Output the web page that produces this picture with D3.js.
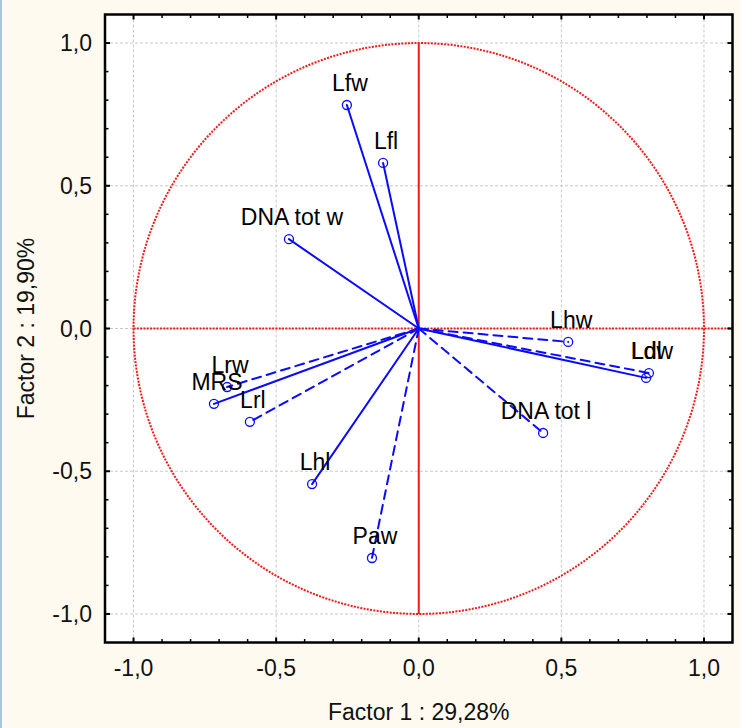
<!DOCTYPE html>
<html>
<head>
<meta charset="utf-8">
<script src="https://cdn.jsdelivr.net/npm/d3@7"></script>
<style>
  html, body { margin: 0; padding: 0; background: #fefaef; }
  svg { display: block; }
</style>
</head>
<body>
<script>
// Factor loadings: variables projected on factor 1 and factor 2
const variables = ["Lfw", "Lfl", "DNA tot w", "Lhw", "Ldw", "Ldl", "DNA tot l", "Lrw", "MRS", "Lrl", "Lhl", "Paw"];
const factor1 = [-0.252, -0.125, -0.455, 0.524, 0.807, 0.797, 0.436, -0.672, -0.718, -0.592, -0.374, -0.164];
const factor2 = [0.783, 0.580, 0.313, -0.047, -0.156, -0.173, -0.366, -0.205, -0.264, -0.327, -0.545, -0.804];
const majorTicks = [-1.0, -0.5, 0.0, 0.5, 1.0];
const tickLabels = ["-1,0", "-0,5", "0,0", "0,5", "1,0"];
const xTitle = "Factor 1 : 29,28%";
const yTitle = "Factor 2 : 19,90%";

// variables drawn with dashed vectors
const dashedVars = new Set(["Lhw", "Ldw", "DNA tot l", "Lrw", "Lrl", "Paw"]);
// small label shifts (px) where two points nearly coincide
const labelNudge = { Ldl: [-2.5, -4.5] };

const W = 741, H = 728;
const plot = { left: 105, right: 732.5, top: 14.5, bottom: 642.5 };
const font = "'Liberation Sans', Arial, sans-serif";
const fs = 23;

const svg = d3.select("body").append("svg").attr("width", W).attr("height", H);

svg.append("rect").attr("x", 0).attr("y", 0).attr("width", W).attr("height", H).attr("fill", "#fefaef");
svg.append("rect").attr("x", 0).attr("y", 0).attr("width", 2).attr("height", H).attr("fill", "#a9c4e2");

const x = d3.scaleLinear().domain([-1.1, 1.1]).range([plot.left, plot.right]);
const y = d3.scaleLinear().domain([-1.1, 1.1]).range([plot.bottom, plot.top]);

svg.append("rect").attr("x", plot.left).attr("y", plot.top)
  .attr("width", plot.right - plot.left).attr("height", plot.bottom - plot.top).attr("fill", "#ffffff");

// dashed grid at the major ticks
const grid = svg.append("g").attr("stroke", "#c9c9c9").attr("stroke-width", 1).attr("stroke-dasharray", "3,2");
grid.selectAll("line.v").data(majorTicks).join("line").attr("class", "v")
  .attr("x1", d => x(d)).attr("x2", d => x(d)).attr("y1", plot.top).attr("y2", plot.bottom);
grid.selectAll("line.h").data(majorTicks).join("line").attr("class", "h")
  .attr("y1", d => y(d)).attr("y2", d => y(d)).attr("x1", plot.left).attr("x2", plot.right);

// unit circle and reference axes
const red = "#f41a1a";
svg.append("ellipse")
  .attr("cx", x(0)).attr("cy", y(0))
  .attr("rx", x(1) - x(0)).attr("ry", y(0) - y(1))
  .attr("fill", "none").attr("stroke", red).attr("stroke-width", 2).attr("stroke-dasharray", "2,1.3");
svg.append("line")
  .attr("x1", x(-1)).attr("x2", x(1.1)).attr("y1", y(0)).attr("y2", y(0))
  .attr("stroke", red).attr("stroke-width", 2).attr("stroke-dasharray", "2,1.3");
svg.append("line")
  .attr("x1", x(0)).attr("x2", x(0)).attr("y1", y(1)).attr("y2", y(-1))
  .attr("stroke", red).attr("stroke-width", 2);

const data = variables.map((name, i) => ({ name, f1: factor1[i], f2: factor2[i] }));

// loading vectors
const blue = "#0a0aff";
svg.append("g").selectAll("line").data(data).join("line")
  .attr("x1", x(0)).attr("y1", y(0))
  .attr("x2", d => x(d.f1)).attr("y2", d => y(d.f2))
  .attr("stroke", blue).attr("stroke-width", 2)
  .attr("stroke-linecap", "round")
  .attr("stroke-dasharray", d => dashedVars.has(d.name) ? "9,6" : null);

svg.append("g").selectAll("circle").data(data).join("circle")
  .attr("cx", d => x(d.f1)).attr("cy", d => y(d.f2)).attr("r", 4.5)
  .attr("fill", "none").attr("stroke", blue).attr("stroke-width", 1.3);

svg.append("g").selectAll("text").data(data).join("text")
  .attr("x", d => x(d.f1) + 3 + (labelNudge[d.name] ? labelNudge[d.name][0] : 0))
  .attr("y", d => y(d.f2) - 14 + (labelNudge[d.name] ? labelNudge[d.name][1] : 0))
  .attr("text-anchor", "middle")
  .attr("font-family", font).attr("font-size", fs).attr("fill", "#000")
  .text(d => d.name);

// frame
svg.append("rect").attr("x", plot.left).attr("y", plot.top)
  .attr("width", plot.right - plot.left).attr("height", plot.bottom - plot.top)
  .attr("fill", "none").attr("stroke", "#000").attr("stroke-width", 2.5);

// inward ticks every 0.1 on all four sides
const allTicks = d3.range(-10, 11).map(i => i / 10);
const isMajor = d => Math.abs(d * 2 - Math.round(d * 2)) < 1e-9;
const tickLen = d => isMajor(d) ? 5 : 3.5;
const tickW = d => isMajor(d) ? 2 : 1.5;
const tk = svg.append("g").attr("stroke", "#000");
tk.selectAll("line.b").data(allTicks).join("line").attr("class", "b")
  .attr("x1", d => x(d)).attr("x2", d => x(d))
  .attr("y1", plot.bottom).attr("y2", d => plot.bottom - tickLen(d)).attr("stroke-width", tickW);
tk.selectAll("line.t").data(allTicks).join("line").attr("class", "t")
  .attr("x1", d => x(d)).attr("x2", d => x(d))
  .attr("y1", plot.top).attr("y2", d => plot.top + tickLen(d)).attr("stroke-width", tickW);
tk.selectAll("line.l").data(allTicks).join("line").attr("class", "l")
  .attr("y1", d => y(d)).attr("y2", d => y(d))
  .attr("x1", plot.left).attr("x2", d => plot.left + tickLen(d)).attr("stroke-width", tickW);
tk.selectAll("line.r").data(allTicks).join("line").attr("class", "r")
  .attr("y1", d => y(d)).attr("y2", d => y(d))
  .attr("x1", plot.right).attr("x2", d => plot.right - tickLen(d)).attr("stroke-width", tickW);

// tick labels
svg.append("g").selectAll("text").data(majorTicks).join("text")
  .attr("x", d => x(d)).attr("y", 676)
  .attr("text-anchor", "middle")
  .attr("font-family", font).attr("font-size", fs).attr("fill", "#111")
  .text((d, i) => tickLabels[i]);
svg.append("g").selectAll("text").data(majorTicks).join("text")
  .attr("x", 92).attr("y", d => y(d) + 8)
  .attr("text-anchor", "end")
  .attr("font-family", font).attr("font-size", fs).attr("fill", "#111")
  .text((d, i) => tickLabels[i]);

// axis titles
svg.append("text")
  .attr("x", (plot.left + plot.right) / 2).attr("y", 720)
  .attr("text-anchor", "middle")
  .attr("font-family", font).attr("font-size", fs).attr("fill", "#111")
  .text(xTitle);
svg.append("text")
  .attr("transform", `translate(34,${(plot.top + plot.bottom) / 2}) rotate(-90)`)
  .attr("text-anchor", "middle")
  .attr("font-family", font).attr("font-size", fs).attr("fill", "#111")
  .text(yTitle);
</script>
</body>
</html>
